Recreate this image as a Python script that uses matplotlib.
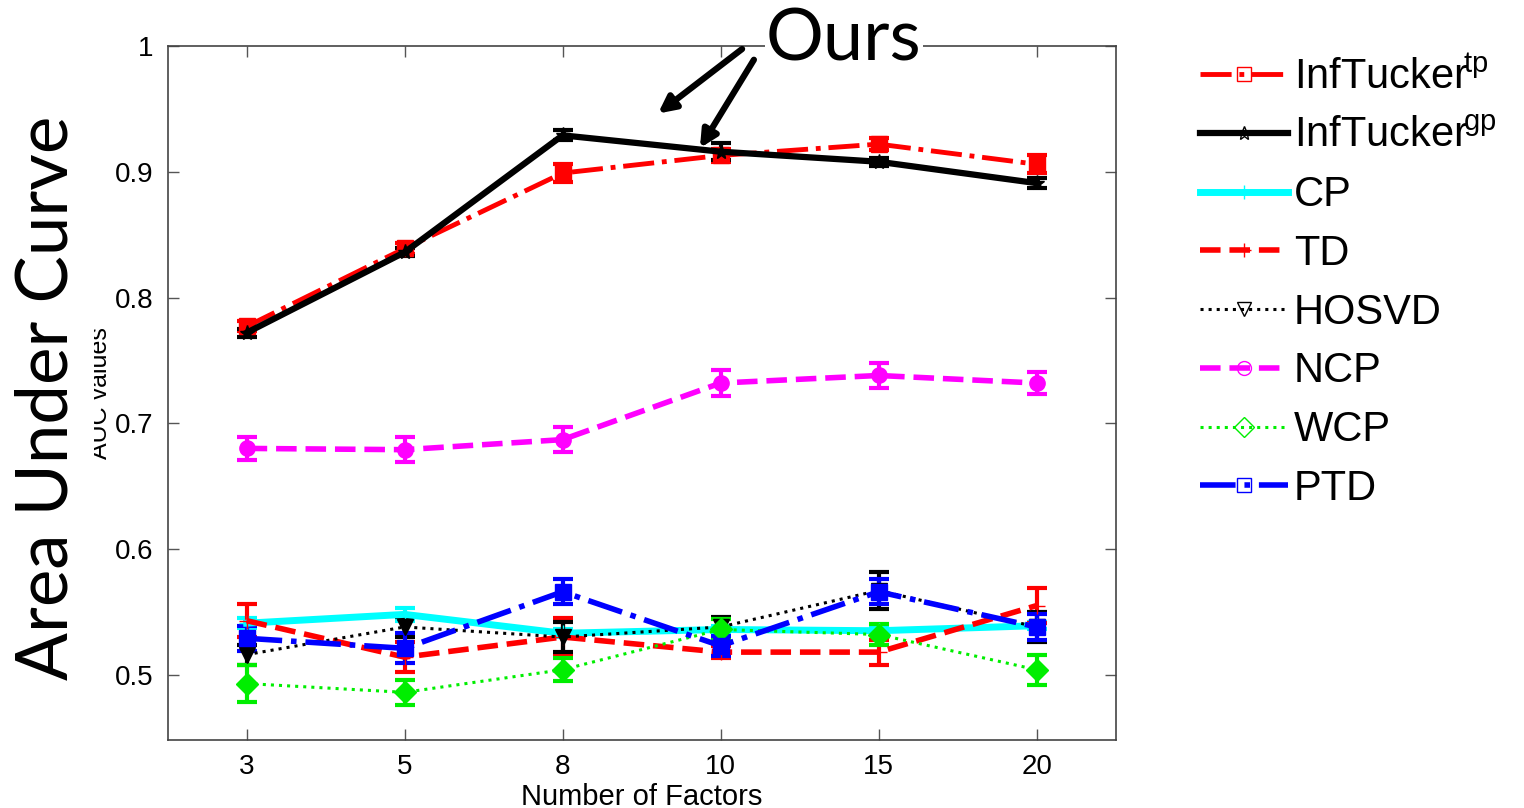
import numpy as np
import matplotlib
matplotlib.use("Agg")
import matplotlib.pyplot as plt
from matplotlib.lines import Line2D

plt.rcParams["font.family"] = ["Liberation Sans", "DejaVu Sans"]
plt.rcParams["mathtext.fontset"] = "custom"
plt.rcParams["mathtext.rm"] = "Liberation Sans"

# ---- data ----
factors = ["3", "5", "8", "10", "15", "20"]
tp = [0.777, 0.839, 0.899, 0.913, 0.922, 0.906]
tp_err = [0.004, 0.004, 0.007, 0.005, 0.005, 0.007]
gp = [0.772, 0.836, 0.929, 0.916, 0.908, 0.891]
gp_err = [0.003, 0.003, 0.004, 0.007, 0.003, 0.004]
cp = [0.541, 0.548, 0.533, 0.536, 0.535, 0.539]
cp_err = [0.004, 0.005, 0.003, 0.003, 0.003, 0.003]
td = [0.543, 0.514, 0.530, 0.518, 0.518, 0.555]
td_err = [0.013, 0.012, 0.015, 0.005, 0.010, 0.014]
hosvd = [0.516, 0.538, 0.530, 0.538, 0.567, 0.538]
hosvd_err = [0.008, 0.008, 0.012, 0.008, 0.015, 0.012]
ncp = [0.680, 0.679, 0.687, 0.732, 0.738, 0.732]
ncp_err = [0.009, 0.010, 0.010, 0.010, 0.010, 0.009]
wcp = [0.493, 0.486, 0.504, 0.536, 0.532, 0.504]
wcp_err = [0.015, 0.010, 0.009, 0.008, 0.008, 0.012]
ptd = [0.529, 0.521, 0.566, 0.523, 0.566, 0.538]
ptd_err = [0.010, 0.012, 0.010, 0.008, 0.010, 0.010]

x = np.arange(1, len(factors) + 1)

fig = plt.figure(figsize=(15.24, 8.08), dpi=100)
ax = fig.add_axes([0.110, 0.084, 0.622, 0.859])

series = [
    (tp, tp_err, r"InfTucker$^{\!\mathrm{tp}}$", "red", "-.", "s", 3.5),
    (gp, gp_err, r"InfTucker$^{\!\mathrm{gp}}$", "black", "-", "*", 4.5),
    (cp, cp_err, "CP", "cyan", "-", "+", 5),
    (td, td_err, "TD", "red", "--", "+", 4),
    (hosvd, hosvd_err, "HOSVD", "black", ":", "v", 2.2),
    (ncp, ncp_err, "NCP", "magenta", "--", "o", 4),
    (wcp, wcp_err, "WCP", "#00ee00", ":", "D", 2.2),
    (ptd, ptd_err, "PTD", "blue", "-.", "s", 4),
]
handles = []
for y, e, lab, c, ls, mk, lw in series:
    ax.errorbar(x, y, yerr=e, color=c, ls=ls, lw=lw, marker=mk, ms=11,
                mfc=c, mec=c, elinewidth=3, capsize=7, capthick=3)
    handles.append(Line2D([], [], color=c, ls=ls, lw=lw, marker=mk, ms=10,
                          mfc="none", mec=c, label=lab))

ax.set_xlim(0.5, 6.5)
ax.set_ylim(0.448, 1.0)
ax.set_xticks(x)
ax.set_xticklabels(factors)
ax.set_yticks([0.5, 0.6, 0.7, 0.8, 0.9, 1.0])
ax.set_yticklabels(["0.5", "0.6", "0.7", "0.8", "0.9", "1"])
ax.tick_params(direction="in", length=8, width=1, color="#555555", labelsize=20,
               top=True, right=True, pad=10)
for s in ax.spines.values():
    s.set_color("#444444")
    s.set_linewidth(1.2)
ax.set_xlabel("Number of Factors", fontsize=21, labelpad=2)
ax.set_ylabel("AUC values", fontsize=18, labelpad=2)

fig.legend(handles=handles, loc="upper left", bbox_to_anchor=(0.763, 0.975),
           frameon=False, fontsize=30, handlelength=2.1, handletextpad=0.15,
           labelspacing=0.45)

# big overlay y-label with white background covering part of the original one
fig.text(0.031, 0.508, "Area Under Curve", rotation=90, ha="center", va="center",
         fontsize=51, family=["Lato", "DejaVu Sans"],
         bbox=dict(facecolor="white", edgecolor="none", pad=10))

# "Ours" annotation with arrows
ax.text(4.78, 1.005, "Ours", ha="center", va="center", fontsize=52,
        family=["Lato", "DejaVu Sans"], clip_on=False, zorder=10,
        bbox=dict(facecolor="white", edgecolor="none", pad=1))
arrow = dict(arrowstyle="-|>,head_length=1.0,head_width=0.5", color="black", lw=4.5)
ax.annotate("", xy=(3.59, 0.945), xytext=(4.15, 0.999), arrowprops=arrow,
            annotation_clip=False, zorder=11)
ax.annotate("", xy=(3.86, 0.917), xytext=(4.22, 0.991), arrowprops=arrow,
            annotation_clip=False, zorder=11)

fig.savefig("out.png", dpi=100)
